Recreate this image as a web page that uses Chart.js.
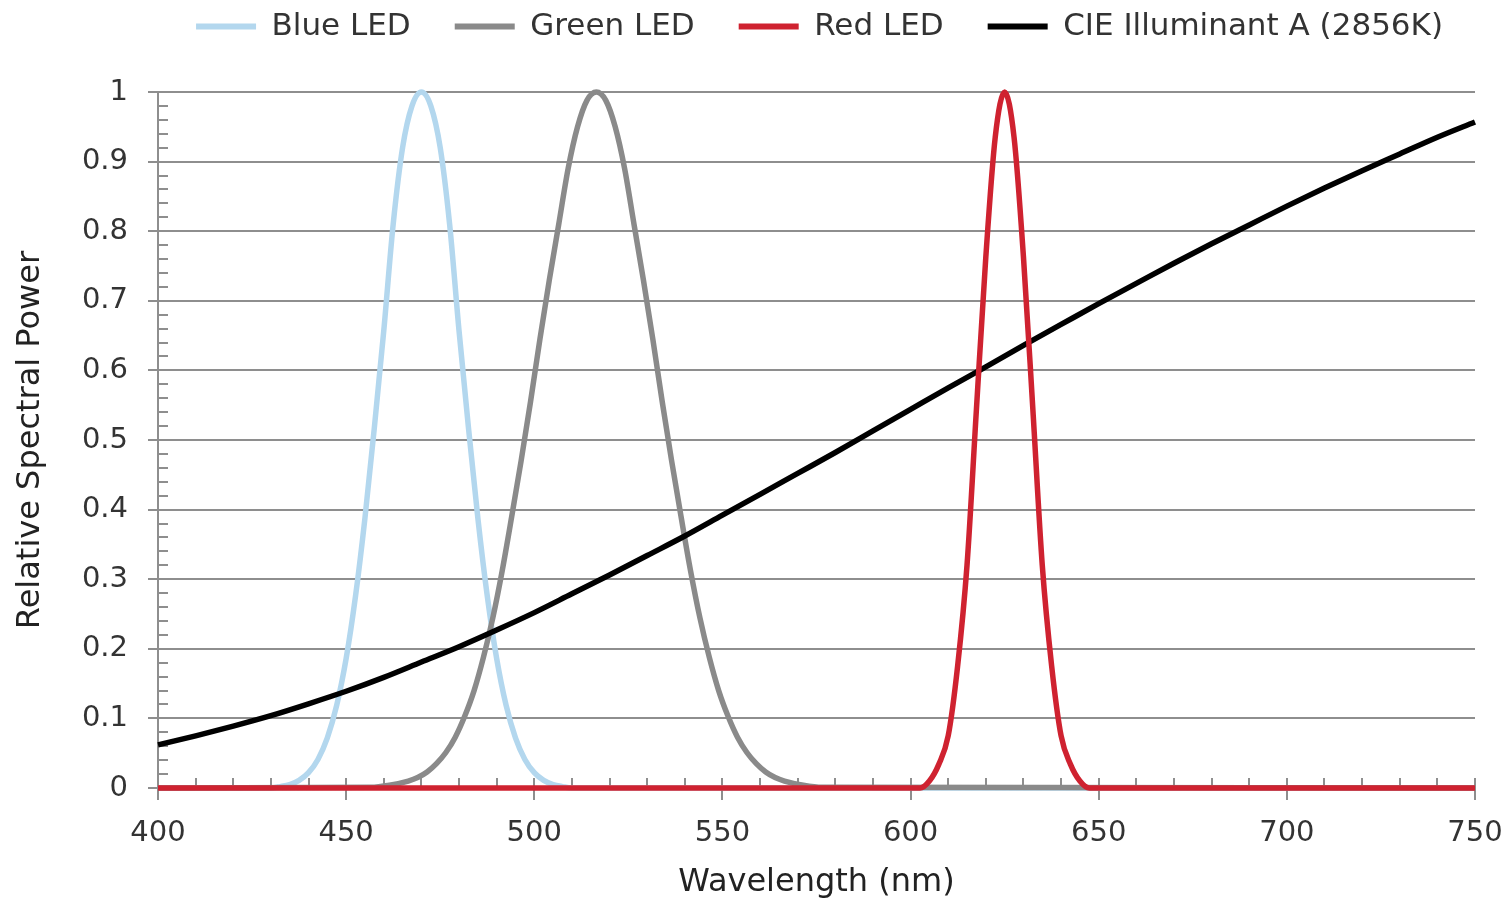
<!DOCTYPE html>
<html>
<head>
<meta charset="utf-8">
<script src="https://cdn.jsdelivr.net/npm/chart.js@4.4.1/dist/chart.umd.min.js"></script>
<style>
  html, body { margin: 0; padding: 0; background: #ffffff; }
  #wrap { width: 1509px; height: 902px; }
</style>
</head>
<body>
<div id="wrap"><canvas id="c" width="1509" height="902"></canvas></div>
<script>
// ---------- data ----------
const seriesNames = ['Blue LED', 'Green LED', 'Red LED', 'CIE Illuminant A (2856K)'];

const blueNm  = [400, 430, 432.5, 435, 437.5, 440, 442.5, 445, 447.5, 450, 452.5, 455, 457.5, 460, 462.5, 465, 467.5,
                 470, 472.5, 475, 477.5, 480, 482.5, 485, 487.5, 490, 492.5, 495, 497.5, 500, 502.5, 505, 507.5, 510, 750];
const blueRel = [0, 0, 0.002, 0.005, 0.011, 0.022, 0.041, 0.072, 0.119, 0.186, 0.276, 0.388, 0.518, 0.657, 0.81, 0.92, 0.98,
                 1, 0.98, 0.92, 0.81, 0.657, 0.518, 0.388, 0.276, 0.186, 0.119, 0.072, 0.041, 0.022, 0.011, 0.005, 0.002, 0, 0];

const greenNm  = [400, 456.5, 461.5, 466.5, 469, 471.5, 474, 476.5, 479, 481.5, 484, 486.5, 489, 491.5, 494, 496.5, 499,
                  501.5, 504, 506.5, 509, 511.5, 514, 516.5, 519, 521.5, 524, 526.5, 529, 531.5, 534, 536.5, 539,
                  541.5, 544, 546.5, 549, 551.5, 554, 556.5, 559, 561.5, 564, 566.5, 571.5, 576.5, 750];
const greenRel = [0, 0.001, 0.004, 0.010, 0.015, 0.023, 0.035, 0.051, 0.073, 0.103, 0.14, 0.188, 0.245, 0.313, 0.39, 0.47, 0.555,
                  0.645, 0.73, 0.81, 0.89, 0.95, 0.988, 1, 0.988, 0.95, 0.89, 0.81, 0.73, 0.645, 0.555, 0.47, 0.39,
                  0.313, 0.245, 0.188, 0.14, 0.103, 0.073, 0.051, 0.035, 0.023, 0.015, 0.010, 0.004, 0.001, 0];

const redNm  = [400, 602.5, 605, 607.5, 610, 612.5, 615, 617.5, 620, 622.5, 625, 627.5, 630, 632.5, 635, 637.5, 640, 642.5, 645, 647.5, 750];
const redRel = [0, 0, 0.01, 0.034, 0.075, 0.175, 0.32, 0.544, 0.763, 0.935, 1, 0.935, 0.763, 0.544, 0.32, 0.175, 0.075, 0.034, 0.01, 0, 0];

const cieNm  = [400, 410, 420, 430, 440, 450, 460, 470, 480, 490, 500, 510, 520, 530, 540, 550, 560, 570,
                580, 590, 600, 610, 620, 630, 640, 650, 660, 670, 680, 690, 700, 710, 720, 730, 740, 750];
const cieRel = [0.062, 0.075, 0.089, 0.104, 0.121, 0.139, 0.159, 0.181, 0.203, 0.227, 0.252, 0.279, 0.306, 0.334, 0.362, 0.392, 0.422, 0.452,
                0.482, 0.513, 0.544, 0.575, 0.605, 0.636, 0.666, 0.696, 0.725, 0.754, 0.782, 0.809, 0.836, 0.862, 0.887, 0.911, 0.935, 0.957];

const xTickValues = [400, 450, 500, 550, 600, 650, 700, 750];
const xTickLabels = ['400', '450', '500', '550', '600', '650', '700', '750'];
const yTickValues = [0, 0.1, 0.2, 0.3, 0.4, 0.5, 0.6, 0.7, 0.8, 0.9, 1];
const yTickLabels = ['0', '0.1', '0.2', '0.3', '0.4', '0.5', '0.6', '0.7', '0.8', '0.9', '1'];
const xMinorStep = 10;
const yMinorStep = 0.02;

// ---------- styles ----------
const FONT = "'DejaVu Sans', sans-serif";
const GRID = '#8e8e8e';
const colors = ['#b3d7ee', '#8a8a8a', '#cf2230', '#000000'];
const drawOrder = [3, 2, 0, 1];

function pts(xs, ys) { return xs.map((v, i) => ({ x: v, y: ys[i] })); }
const seriesData = [pts(blueNm, blueRel), pts(greenNm, greenRel), pts(redNm, redRel), pts(cieNm, cieRel)];

const minorTicks = {
  id: 'minorTicks',
  beforeDatasetsDraw(chart) {
    const { ctx, chartArea, scales: { x, y } } = chart;
    ctx.save();
    ctx.strokeStyle = GRID;
    ctx.lineWidth = 2;
    const nx = Math.round((x.max - x.min) / xMinorStep);
    for (let i = 0; i <= nx; i++) {
      const v = x.min + i * xMinorStep;
      const px = Math.round(x.getPixelForValue(v));
      const major = xTickValues.indexOf(v) !== -1;
      ctx.beginPath();
      ctx.moveTo(px, chartArea.bottom - 10);
      ctx.lineTo(px, chartArea.bottom + (major ? 12 : 0));
      ctx.stroke();
    }
    const ny = Math.round((y.max - y.min) / yMinorStep);
    for (let i = 1; i < ny; i++) {
      if (i % 5 === 0) continue;
      const v = y.min + i * yMinorStep;
      const py = Math.round(y.getPixelForValue(v));
      ctx.beginPath();
      ctx.moveTo(chartArea.left, py);
      ctx.lineTo(chartArea.left + 10, py);
      ctx.stroke();
    }
    ctx.restore();
  }
};

const defaultLabels = Chart.defaults.plugins.legend.labels.generateLabels;

new Chart(document.getElementById('c'), {
  type: 'line',
  data: {
    datasets: seriesNames.map((name, i) => ({
      label: name,
      data: seriesData[i],
      borderColor: colors[i],
      backgroundColor: colors[i],
      borderWidth: 5.5,
      pointRadius: 0,
      cubicInterpolationMode: 'monotone',
      clip: false,
      order: drawOrder[i]
    }))
  },
  options: {
    responsive: false,
    animation: false,
    layout: { padding: { left: 0, right: 22, top: -33, bottom: 0 } },
    plugins: {
      tooltip: { enabled: false },
      legend: {
        position: 'top',
        align: 'end',
        labels: {
          font: { family: FONT, size: 31 },
          color: '#333333',
          boxWidth: 60,
          boxHeight: 6,
          padding: 44,
          sort: (a, b) => a.datasetIndex - b.datasetIndex,
          generateLabels: (chart) => defaultLabels(chart).map(l => Object.assign(l, { lineWidth: 0 }))
        }
      },
      subtitle: {
        display: true,
        text: ' ',
        weight: 500,
        font: { size: 10 },
        padding: { top: 0, bottom: 28 }
      }
    },
    scales: {
      x: {
        type: 'linear',
        min: 400,
        max: 750,
        afterBuildTicks: (s) => { s.ticks = xTickValues.map(v => ({ value: v })); },
        afterFit: (s) => { s.height = 114; s.paddingRight = 34; s.paddingLeft = 0; },
        ticks: {
          callback: (v, i) => xTickLabels[i],
          font: { family: FONT, size: 29 },
          color: '#333333',
          padding: 28,
          maxRotation: 0,
          autoSkip: false
        },
        grid: { display: true, drawOnChartArea: false, drawTicks: false },
        border: { display: true, color: GRID, width: 2 },
        title: {
          display: true,
          text: 'Wavelength (nm)',
          font: { family: FONT, size: 32 },
          color: '#222222',
          padding: { top: 0, bottom: 0 }
        }
      },
      y: {
        type: 'linear',
        min: 0,
        max: 1,
        afterBuildTicks: (s) => { s.ticks = yTickValues.map(v => ({ value: v })); },
        afterFit: (s) => { s.width = 158; },
        ticks: {
          callback: (v, i) => yTickLabels[i],
          font: { family: FONT, size: 29 },
          color: '#333333',
          padding: 20,
          autoSkip: false
        },
        grid: { color: GRID, lineWidth: 2, tickLength: 10, drawTicks: true },
        border: { display: true, color: GRID, width: 2 },
        title: {
          display: true,
          text: 'Relative Spectral Power',
          font: { family: FONT, size: 32 },
          color: '#222222',
          padding: { top: 11, bottom: 0 }
        }
      }
    }
  },
  plugins: [minorTicks]
});
</script>
</body>
</html>
